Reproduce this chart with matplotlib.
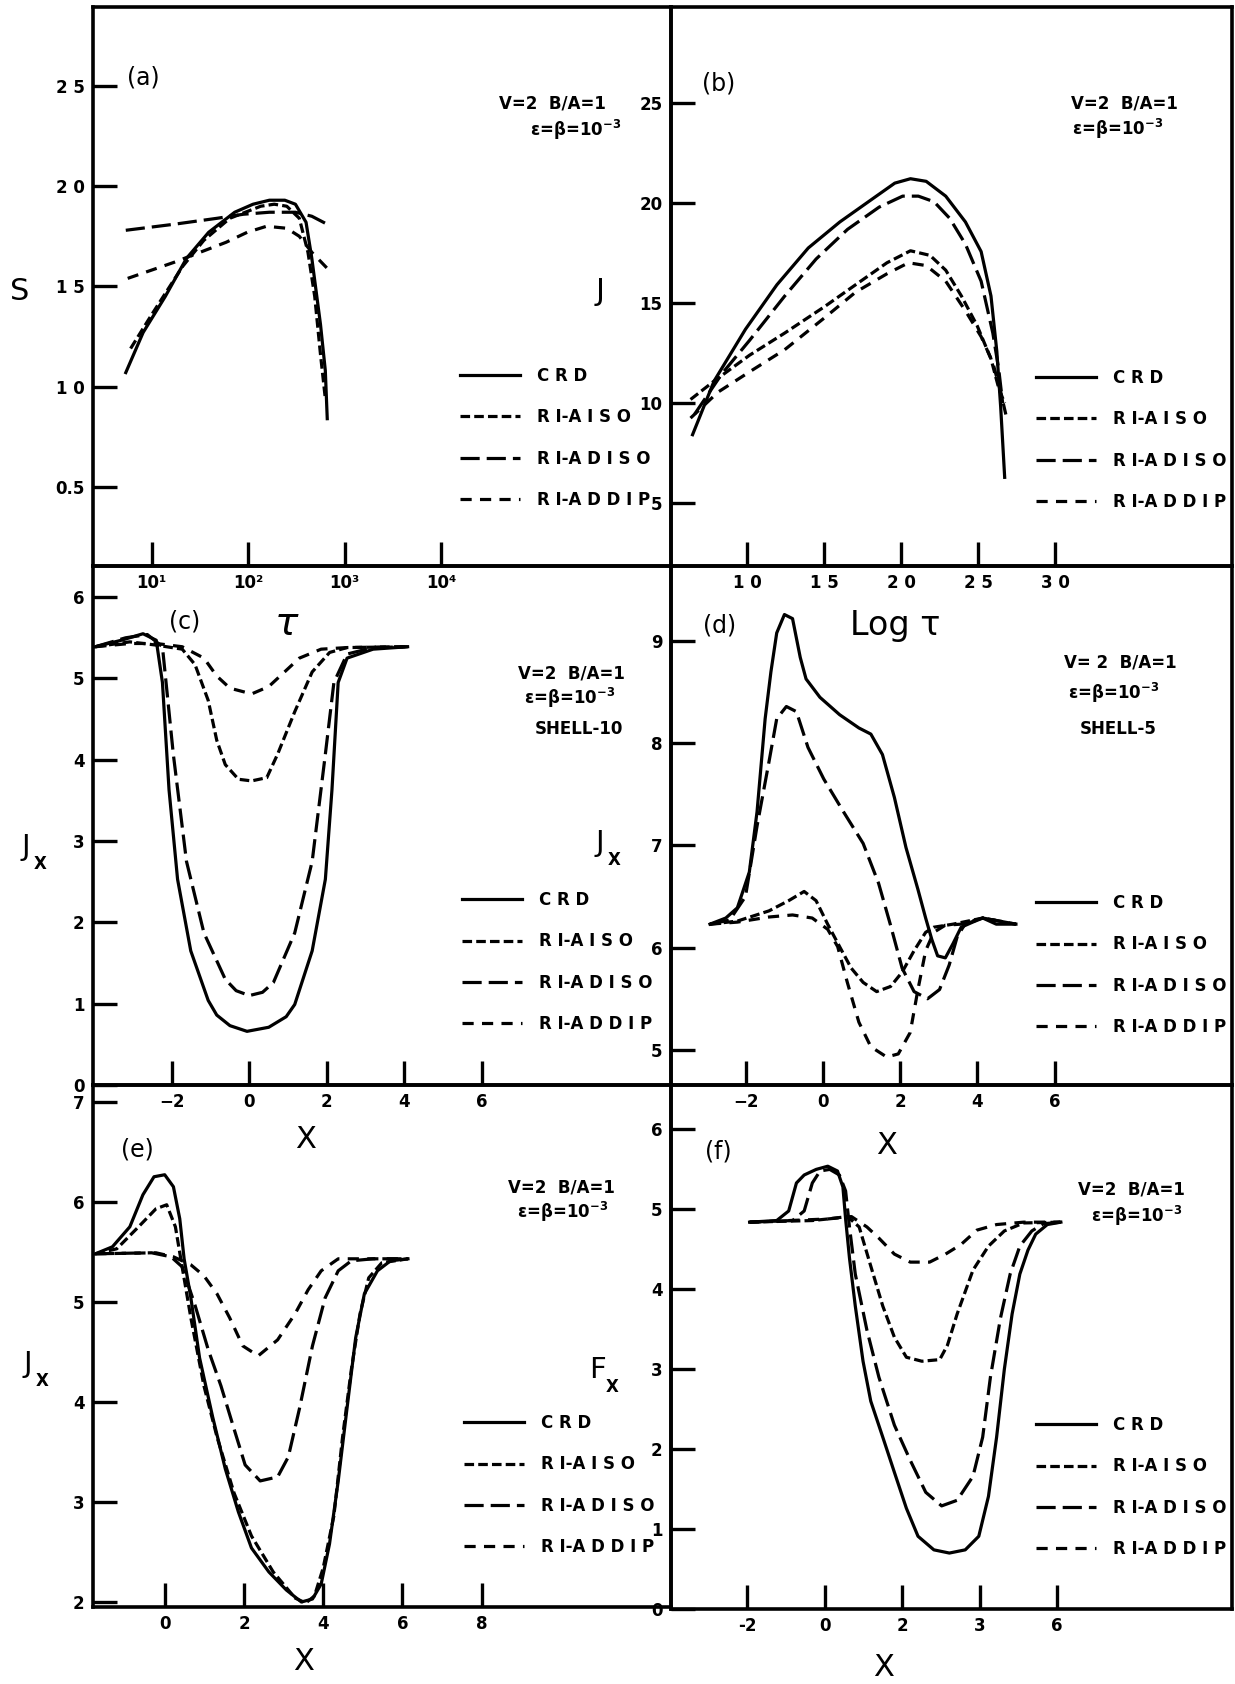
import numpy as np
import matplotlib
matplotlib.use("Agg")
import matplotlib.pyplot as plt

# =========================
# data
# =========================
labels = ["C R D", "R I-A I S O", "R I-A D I S O", "R I-A D D I P"]

# (a)  S vs log10(tau)
a_lt_crd = [0.73, 0.91, 1.14, 1.36, 1.59, 1.86, 2.05, 2.22, 2.38, 2.49, 2.60, 2.66, 2.75, 2.80, 2.82]
a_s_crd = [1.07, 1.27, 1.45, 1.64, 1.77, 1.87, 1.91, 1.93, 1.93, 1.91, 1.82, 1.64, 1.31, 1.08, 0.84]
a_lt_aiso = [0.78, 1.00, 1.32, 1.54, 1.81, 2.13, 2.27, 2.40, 2.53, 2.62, 2.69, 2.75, 2.80]
a_s_aiso = [1.19, 1.36, 1.60, 1.73, 1.84, 1.90, 1.91, 1.90, 1.84, 1.67, 1.45, 1.16, 0.94]
a_lt_adiso = [0.73, 1.23, 1.68, 1.95, 2.22, 2.49, 2.66, 2.82]
a_s_adiso = [1.78, 1.81, 1.84, 1.86, 1.87, 1.87, 1.85, 1.81]
a_lt_addip = [0.75, 1.23, 1.50, 1.77, 1.99, 2.19, 2.40, 2.53, 2.66, 2.84]
a_s_addip = [1.54, 1.62, 1.67, 1.72, 1.77, 1.80, 1.79, 1.75, 1.67, 1.58]

# (b)  J vs Log tau
b_x_crd = [6.43, 7.83, 9.87, 11.91, 13.95, 16.0, 18.04, 19.57, 20.59, 21.61, 22.88, 24.16, 25.18, 25.82, 26.2, 26.45, 26.71]
b_j_crd = [8.42, 11.1, 13.69, 15.91, 17.75, 19.05, 20.16, 20.99, 21.21, 21.08, 20.34, 19.05, 17.57, 15.35, 12.58, 9.81, 6.29]
b_x_aiso = [6.3, 7.83, 10.13, 12.42, 14.97, 17.02, 19.06, 20.59, 21.86, 22.88, 23.9, 24.92, 25.82, 26.33, 26.71]
b_j_aiso = [10.18, 11.1, 12.39, 13.5, 14.8, 15.91, 17.01, 17.61, 17.38, 16.64, 15.35, 13.87, 12.21, 10.73, 9.99]
b_x_adiso = [6.56, 8.34, 10.13, 12.42, 14.46, 16.5, 18.55, 20.08, 21.1, 22.12, 23.14, 24.16, 25.18, 25.94, 26.33, 26.58]
b_j_adiso = [9.44, 11.47, 13.13, 15.35, 17.2, 18.68, 19.79, 20.34, 20.34, 20.06, 19.23, 17.94, 16.09, 13.5, 11.65, 9.99]
b_x_addip = [6.3, 8.09, 10.13, 12.42, 14.97, 17.02, 19.06, 20.46, 21.61, 22.88, 24.16, 25.18, 25.94, 26.45, 26.84]
b_j_addip = [9.25, 10.55, 11.56, 12.67, 14.24, 15.54, 16.46, 17.01, 16.87, 16.09, 14.61, 13.32, 12.02, 10.55, 9.25]

# (c)  Jx vs X, shell 10
c_x_crd = [-3.97, -3.3, -2.74, -2.4, -2.24, -2.07, -1.85, -1.51, -1.06, -0.84, -0.5, -0.06, 0.5, 0.95, 1.17, 1.62, 1.96, 2.13, 2.29, 2.52, 3.19, 4.08]
c_j_crd = [5.39, 5.47, 5.55, 5.47, 4.95, 3.63, 2.53, 1.65, 1.04, 0.86, 0.73, 0.66, 0.71, 0.84, 0.99, 1.65, 2.53, 3.63, 4.95, 5.25, 5.36, 5.39]
c_x_aiso = [-3.97, -3.08, -2.4, -1.73, -1.4, -1.06, -0.84, -0.62, -0.28, 0.06, 0.45, 0.73, 1.17, 1.62, 2.07, 2.52, 4.08]
c_j_aiso = [5.39, 5.45, 5.41, 5.36, 5.17, 4.73, 4.24, 3.94, 3.76, 3.74, 3.78, 4.07, 4.59, 5.08, 5.32, 5.38, 5.39]
c_x_adiso = [-3.97, -3.19, -2.63, -2.24, -1.96, -1.62, -1.17, -0.62, -0.34, 0.0, 0.34, 0.62, 1.17, 1.62, 1.96, 2.18, 2.52, 3.19, 4.08]
c_j_adiso = [5.39, 5.5, 5.54, 5.39, 4.07, 2.75, 1.87, 1.3, 1.16, 1.1, 1.14, 1.26, 1.87, 2.75, 4.07, 4.95, 5.3, 5.38, 5.39]
c_x_addip = [-3.97, -3.08, -2.4, -1.73, -1.17, -0.84, -0.5, 0.06, 0.5, 0.84, 1.29, 1.85, 2.52, 4.08]
c_j_addip = [5.39, 5.43, 5.43, 5.39, 5.25, 5.03, 4.88, 4.81, 4.9, 5.05, 5.25, 5.36, 5.38, 5.39]

# (d)  Jx vs X, shell 5
d_x_crd = [-2.93, -2.52, -2.22, -1.91, -1.71, -1.5, -1.35, -1.2, -1.0, -0.79, -0.59, -0.44, -0.08, 0.43, 0.93, 1.24, 1.54, 1.85, 2.15, 2.46, 2.66, 2.82, 2.97, 3.17, 3.37, 3.58, 3.88, 4.14, 4.49, 5.0]
d_j_crd = [6.23, 6.29, 6.39, 6.74, 7.33, 8.24, 8.7, 9.08, 9.26, 9.22, 8.84, 8.63, 8.45, 8.28, 8.15, 8.09, 7.89, 7.47, 6.98, 6.57, 6.29, 6.08, 5.92, 5.9, 6.04, 6.2, 6.25, 6.29, 6.23, 6.23]
d_x_aiso = [-2.93, -2.22, -1.4, -0.89, -0.49, -0.18, 0.12, 0.43, 0.73, 1.04, 1.39, 1.75, 2.05, 2.36, 2.66, 2.87, 3.37, 4.14, 5.0]
d_j_aiso = [6.23, 6.26, 6.36, 6.46, 6.55, 6.46, 6.23, 6.01, 5.8, 5.66, 5.57, 5.62, 5.76, 5.97, 6.15, 6.2, 6.23, 6.29, 6.23]
d_x_adiso = [-2.93, -2.42, -2.01, -1.71, -1.4, -1.2, -0.95, -0.69, -0.39, 0.02, 0.53, 1.04, 1.44, 1.75, 2.05, 2.36, 2.71, 3.02, 3.27, 3.48, 3.68, 4.14, 5.0]
d_j_adiso = [6.23, 6.27, 6.5, 7.19, 7.82, 8.24, 8.36, 8.31, 7.96, 7.65, 7.33, 7.02, 6.63, 6.22, 5.8, 5.57, 5.5, 5.59, 5.83, 6.11, 6.23, 6.29, 6.23]
d_x_addip = [-2.93, -2.22, -1.4, -0.79, -0.28, 0.12, 0.38, 0.63, 0.93, 1.24, 1.65, 1.95, 2.26, 2.46, 2.66, 2.87, 3.17, 3.58, 4.14, 5.0]
d_j_addip = [6.23, 6.25, 6.3, 6.32, 6.29, 6.18, 6.01, 5.66, 5.27, 5.03, 4.93, 4.96, 5.17, 5.59, 5.97, 6.15, 6.22, 6.23, 6.29, 6.23]

# (e)  Jx vs X
e_x_crd = [-1.75, -1.32, -0.88, -0.55, -0.27, 0.0, 0.22, 0.38, 0.49, 0.66, 0.88, 1.21, 1.53, 1.86, 2.19, 2.63, 3.07, 3.45, 3.73, 3.95, 4.16, 4.38, 4.6, 4.82, 5.04, 5.37, 5.7, 6.14]
e_j_crd = [5.48, 5.55, 5.75, 6.07, 6.25, 6.27, 6.15, 5.83, 5.43, 5.04, 4.44, 3.85, 3.33, 2.9, 2.54, 2.3, 2.12, 2.0, 2.03, 2.18, 2.58, 3.21, 3.93, 4.64, 5.08, 5.31, 5.41, 5.43]
e_x_aiso = [-1.75, -1.21, -0.66, -0.22, 0.05, 0.27, 0.44, 0.66, 0.99, 1.32, 1.75, 2.19, 2.74, 3.29, 3.56, 3.78, 4.0, 4.27, 4.49, 4.71, 4.93, 5.15, 5.48, 6.14]
e_j_aiso = [5.48, 5.53, 5.75, 5.93, 5.97, 5.75, 5.35, 4.84, 4.16, 3.65, 3.09, 2.66, 2.3, 2.04, 1.99, 2.06, 2.34, 2.86, 3.65, 4.32, 4.88, 5.24, 5.39, 5.43]
e_x_adiso = [-1.75, -0.33, 0.16, 0.44, 0.77, 1.1, 1.42, 1.75, 2.03, 2.41, 2.85, 3.12, 3.4, 3.73, 4.05, 4.38, 4.71, 5.26, 6.14]
e_j_adiso = [5.48, 5.49, 5.45, 5.35, 4.96, 4.52, 4.16, 3.73, 3.37, 3.21, 3.25, 3.45, 3.93, 4.56, 5.04, 5.31, 5.41, 5.43, 5.43]
e_x_addip = [-1.75, -0.22, 0.22, 0.66, 0.99, 1.32, 1.64, 1.97, 2.36, 2.85, 3.29, 3.62, 3.95, 4.38, 5.26, 6.14]
e_j_addip = [5.48, 5.49, 5.45, 5.37, 5.26, 5.08, 4.84, 4.56, 4.46, 4.62, 4.88, 5.12, 5.31, 5.43, 5.43, 5.43]

# (f)  Fx vs X
f_x_crd = [-1.94, -1.24, -0.93, -0.73, -0.53, -0.22, 0.08, 0.33, 0.47, 0.54, 0.64, 0.79, 0.99, 1.19, 1.5, 1.8, 2.11, 2.41, 2.82, 3.22, 3.63, 3.98, 4.23, 4.44, 4.64, 4.84, 5.04, 5.25, 5.45, 5.75, 6.1]
f_f_crd = [4.84, 4.86, 4.98, 5.33, 5.43, 5.5, 5.54, 5.48, 5.28, 4.88, 4.39, 3.79, 3.1, 2.6, 2.15, 1.71, 1.26, 0.91, 0.74, 0.7, 0.74, 0.91, 1.41, 2.15, 3.0, 3.69, 4.19, 4.49, 4.69, 4.81, 4.84]
f_x_aiso = [-1.94, -0.32, 0.08, 0.59, 0.89, 1.19, 1.5, 1.8, 2.11, 2.51, 2.97, 3.17, 3.42, 3.83, 4.23, 4.64, 5.14, 6.1]
f_f_aiso = [4.84, 4.86, 4.88, 4.91, 4.78, 4.29, 3.79, 3.4, 3.15, 3.1, 3.12, 3.3, 3.69, 4.24, 4.54, 4.73, 4.83, 4.84]
f_x_adiso = [-1.94, -0.83, -0.53, -0.32, -0.12, 0.13, 0.38, 0.54, 0.64, 0.79, 1.09, 1.4, 1.8, 2.21, 2.61, 3.02, 3.42, 3.83, 4.08, 4.28, 4.54, 4.79, 5.04, 5.35, 5.65, 6.1]
f_f_adiso = [4.84, 4.86, 4.98, 5.33, 5.48, 5.5, 5.43, 5.23, 4.78, 4.19, 3.49, 2.9, 2.3, 1.86, 1.46, 1.29, 1.36, 1.66, 2.15, 2.9, 3.64, 4.19, 4.54, 4.73, 4.82, 4.84]
f_x_addip = [-1.94, 0.08, 0.69, 1.09, 1.4, 1.8, 2.21, 2.71, 3.12, 3.52, 3.93, 4.44, 5.14, 6.1]
f_f_addip = [4.84, 4.88, 4.91, 4.78, 4.64, 4.44, 4.34, 4.34, 4.44, 4.56, 4.74, 4.81, 4.84, 4.84]

# =========================
# style
# =========================
plt.rcParams['font.family'] = ['DejaVu Sans']
plt.rcParams['font.weight'] = 'bold'
plt.rcParams['mathtext.default'] = 'bf'

W, H = 1235, 1684
fig = plt.figure(figsize=(W / 100, H / 100), dpi=100)
fig.patch.set_facecolor('white')

styles = ['-', (0, (3.0, 1.3)), (0, (6.0, 2.2)), (0, (3.5, 2.6))]
LW = 2.3
EPS = r'ε=β=10$^{-3}$'


def fx(x):
    return x / W


def fy(y):
    return 1 - y / H


def panel(left, top, right, bottom):
    ax = fig.add_axes([fx(left), fy(bottom), fx(right - left), (bottom - top) / H])
    ax.patch.set_visible(False)
    for s in ax.spines.values():
        s.set_linewidth(2.6)
    return ax


def ticks(ax):
    ax.minorticks_off()
    ax.tick_params(direction='in', length=17, width=2.4, color='black',
                   labelsize=12, pad=6)


def curves(ax, xs, ys):
    for x, y, ls, lab in zip(xs, ys, styles, labels):
        ax.plot(x, y, color='black', lw=LW, linestyle=ls, label=lab)


def legend(ax, x, y):
    ax.legend(loc='upper left', bbox_to_anchor=(fx(x), fy(y)),
              bbox_transform=fig.transFigure, frameon=False,
              prop={'weight': 'bold', 'size': 12}, handlelength=3.6,
              handletextpad=1.0, labelspacing=1.4, borderpad=0,
              borderaxespad=0)


def txt(x, y, s, size=12, weight='bold', **kw):
    fig.text(fx(x), fy(y), s, ha='center', va='center', fontsize=size,
             fontweight=weight, **kw)


def jx(x, y, letter='J'):
    txt(x, y, letter, size=21, weight='normal')
    txt(x + 14, y + 17, 'X', size=12)


# =========================
# (a)
# =========================
ax = panel(93, 7, 671, 566)
curves(ax, [10 ** np.array(a_lt_crd), 10 ** np.array(a_lt_aiso),
            10 ** np.array(a_lt_adiso), 10 ** np.array(a_lt_addip)],
       [a_s_crd, a_s_aiso, a_s_adiso, a_s_addip])
ax.set_xscale('log')
ax.set_xlim(10 ** 0.39, 10 ** 6.386)
ax.set_ylim(0.105, 2.894)
ax.set_xticks([10, 100, 1000, 10000], ['10¹', '10²', '10³', '10⁴'])
ax.set_yticks([0.5, 1.0, 1.5, 2.0, 2.5], ['0.5', '1 0', '1 5', '2 0', '2 5'])
ticks(ax)
legend(ax, 460, 367)
txt(143, 78, '(a)', size=17, weight='normal')
txt(552, 103, 'V=2  B/A=1')
txt(576, 130, EPS)
txt(20, 292, 'S', size=22, weight='normal')
txt(286, 624, 'τ', size=28, weight='normal', style='italic')

# =========================
# (b)
# =========================
ax = panel(671, 7, 1232, 566)
curves(ax, [b_x_crd, b_x_aiso, b_x_adiso, b_x_addip],
       [b_j_crd, b_j_aiso, b_j_adiso, b_j_addip])
ax.set_xlim(5.03, 41.48)
ax.set_ylim(1.86, 29.79)
ax.set_xticks([10, 15, 20, 25, 30], ['1 0', '1 5', '2 0', '2 5', '3 0'])
ax.set_yticks([5, 10, 15, 20, 25], ['5', '10', '15', '20', '25'])
ticks(ax)
legend(ax, 1036, 369)
txt(719, 83, '(b)', size=17, weight='normal')
txt(1124, 104, 'V=2  B/A=1')
txt(1118, 129, EPS)
txt(600, 292, 'J', size=22, weight='normal')
txt(895, 626, 'Log τ', size=24, weight='normal')

# =========================
# (c)
# =========================
ax = panel(93, 566, 671, 1085)
curves(ax, [c_x_crd, c_x_aiso, c_x_adiso, c_x_addip],
       [c_j_crd, c_j_aiso, c_j_adiso, c_j_addip])
ax.set_xlim(-4.03, 10.87)
ax.set_ylim(0.0, 6.383)
ax.set_xticks([-2, 0, 2, 4, 6])
ax.set_yticks([0, 1, 2, 3, 4, 5, 6])
ticks(ax)
legend(ax, 462, 891)
txt(185, 622, '(c)', size=17, weight='normal')
txt(571, 674, 'V=2  B/A=1')
txt(570, 698, EPS)
txt(579, 729, 'SHELL-10')
jx(26, 847)
txt(306, 1140, 'X', size=22, weight='normal')

# =========================
# (d)
# =========================
ax = panel(671, 566, 1232, 1085)
curves(ax, [d_x_crd, d_x_aiso, d_x_adiso, d_x_addip],
       [d_j_crd, d_j_aiso, d_j_adiso, d_j_addip])
ax.set_xlim(-3.94, 10.6)
ax.set_ylim(4.656, 9.735)
ax.set_xticks([-2, 0, 2, 4, 6])
ax.set_yticks([5, 6, 7, 8, 9])
ticks(ax)
legend(ax, 1036, 894)
txt(720, 626, '(d)', size=17, weight='normal')
txt(1120, 663, 'V= 2  B/A=1')
txt(1114, 693, EPS)
txt(1118, 729, 'SHELL-5')
jx(600, 843)
txt(887, 1146, 'X', size=22, weight='normal')

# =========================
# (e)
# =========================
ax = panel(93, 1085, 671, 1607)
curves(ax, [e_x_crd, e_x_aiso, e_x_adiso, e_x_addip],
       [e_j_crd, e_j_aiso, e_j_adiso, e_j_addip])
ax.set_xlim(-1.81, 12.78)
ax.set_ylim(1.95, 7.167)
ax.set_xticks([0, 2, 4, 6, 8])
ax.set_yticks([2, 3, 4, 5, 6, 7])
ticks(ax)
legend(ax, 464, 1414)
txt(137, 1150, '(e)', size=17, weight='normal')
txt(561, 1187, 'V=2  B/A=1')
txt(563, 1212, EPS)
jx(28, 1364)
txt(304, 1662, 'X', size=22, weight='normal')

# =========================
# (f)
# =========================
ax = panel(671, 1085, 1232, 1609)
curves(ax, [f_x_crd, f_x_aiso, f_x_adiso, f_x_addip],
       [f_f_crd, f_f_aiso, f_f_adiso, f_f_addip])
ax.set_xlim(-3.97, 10.52)
ax.set_ylim(0.02, 6.556)
ax.set_xticks([-2, 0, 2, 4, 6], ['-2', '0', '2', '3', '6'])
ax.set_yticks([0, 1, 2, 3, 4, 5, 6])
ticks(ax)
legend(ax, 1036, 1416)
txt(718, 1152, '(f)', size=17, weight='normal')
txt(1131, 1189, 'V=2  B/A=1')
txt(1137, 1216, EPS)
jx(598, 1370, 'F')
txt(884, 1667, 'X', size=22, weight='normal')

plt.savefig('out.png', dpi=100)
